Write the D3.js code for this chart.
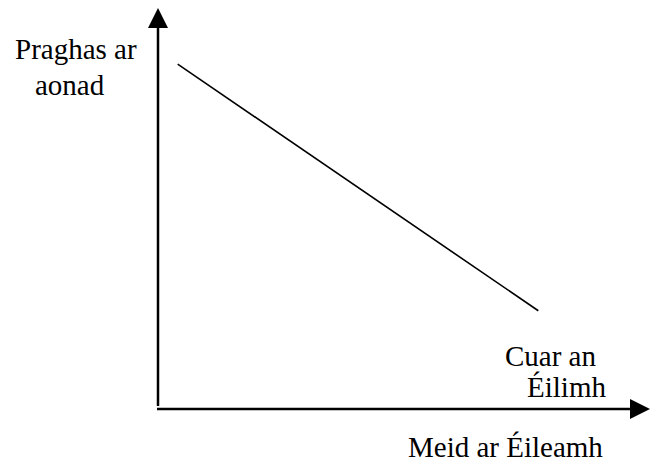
<!DOCTYPE html>
<html>
<head>
<meta charset="utf-8">
<script src="https://cdn.jsdelivr.net/npm/d3@7"></script>
<style>
  body { margin: 0; background: #fff; }
</style>
</head>
<body>
<div id="chart"></div>
<script>
// demand curve end points (quantity, price) on a 0-100 scale
var quantity = [4, 77.3]
var price = [86, 24.5]

var yLabel = ["Praghas ar", "aonad"]
var xLabel = "Meid ar Éileamh"
var curveLabel = ["Cuar an", "Éilimh"]

var width = 660,
  height = 464

var svg = d3.select("#chart").append("svg")
    .attr("width", width)
    .attr("height", height)
    .attr("font-family", "'Liberation Serif', 'Times New Roman', serif")
    .attr("font-size", 29)

var x = d3.scaleLinear()
    .domain([0, 100])
    .range([158, 650])

var y = d3.scaleLinear()
    .domain([0, 100])
    .range([409, 8])

// axes
svg.append("line")
    .attr("x1", x(0)).attr("x2", x(0))
    .attr("y1", y(0) - 3).attr("y2", y(100) + 18)
    .attr("stroke", "#000")
    .attr("stroke-width", 2.5)

svg.append("line")
    .attr("x1", x(0) - 1).attr("x2", x(100) - 18)
    .attr("y1", y(0)).attr("y2", y(0))
    .attr("stroke", "#000")
    .attr("stroke-width", 2.5)

// arrow heads
svg.append("path")
    .attr("d", "M" + x(0) + "," + y(100) + "L" + (x(0) - 10) + "," + (y(100) + 20) + "L" + (x(0) + 10) + "," + (y(100) + 20) + "Z")
    .attr("fill", "#000")

svg.append("path")
    .attr("d", "M" + x(100) + "," + y(0) + "L" + (x(100) - 20) + "," + (y(0) - 10) + "L" + (x(100) - 20) + "," + (y(0) + 10) + "Z")
    .attr("fill", "#000")

// demand curve
var line = d3.line()
    .x(function(d) { return x(d[0]) })
    .y(function(d) { return y(d[1]) })

svg.append("path")
    .datum(quantity.map(function(q, i) { return [q, price[i]] }))
    .attr("d", line)
    .attr("fill", "none")
    .attr("stroke", "#000")
    .attr("stroke-width", 1.6)

// labels
svg.append("text").attr("x", 15).attr("y", 59).text(yLabel[0])
svg.append("text").attr("x", 35).attr("y", 95).text(yLabel[1])

svg.append("text").attr("x", 505).attr("y", 366).text(curveLabel[0])
svg.append("text").attr("x", 527).attr("y", 397).text(curveLabel[1])

svg.append("text").attr("x", 408).attr("y", 457).text(xLabel)
</script>
</body>
</html>
